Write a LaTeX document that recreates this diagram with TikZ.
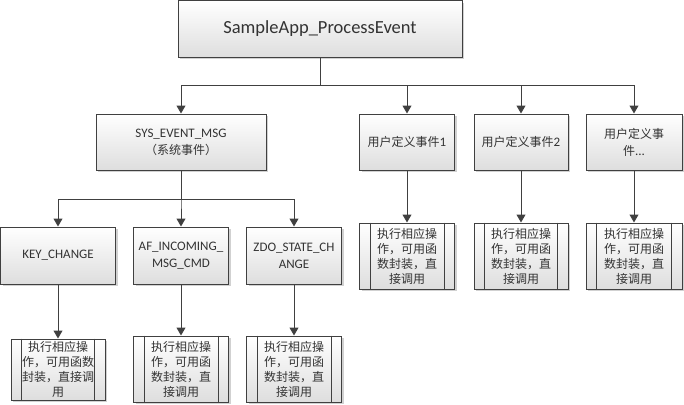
\documentclass[tikz,border=0pt]{standalone}
\usepackage{fontspec}
\setmainfont{Carlito}
\newfontfamily\cjk{Noto Sans CJK SC}
\usetikzlibrary{arrows.meta,shadows}
\definecolor{linec}{HTML}{404040}
\definecolor{txtc}{HTML}{333333}
\newcommand{\zhtxt}[1]{{\cjk\fontsize{12}{15}\selectfont #1}}
\begin{document}
\begin{tikzpicture}[x=1pt,y=-1pt,
  box/.style={draw=linec, line width=1pt, top color=white, bottom color=black!13,
    drop shadow={shadow xshift=2pt, shadow yshift=-2pt, fill=black, opacity=0.18},
    text=txtc, align=center, inner sep=2pt, font=\fontsize{13}{17}\selectfont},
  proc/.style={box, font=\cjk\fontsize{12}{15}\selectfont},
  arr/.style={draw=linec, line width=1pt, -{Triangle[length=8pt,width=9pt]}},
  sep/.style={draw=linec, line width=1pt}]
\useasboundingbox (0,0) rectangle (684,404);
% level 0
\node[box, minimum width=284pt, minimum height=56pt, font=\fontsize{18.5}{22}\selectfont] (top) at (320,29) {SampleApp\_ProcessEvent};
% level 1
\node[box, minimum width=170pt, minimum height=56pt] (sys) at (181,142) {SYS\_EVENT\_MSG\\\zhtxt{（系统事件）}};
\node[box, minimum width=95pt, minimum height=56pt] (u1) at (407,142) {\zhtxt{用户定义事件}1};
\node[box, minimum width=94pt, minimum height=56pt] (u2) at (521,142) {\zhtxt{用户定义事件}2};
\node[box, minimum width=96pt, minimum height=56pt] (u3) at (634,142) {\zhtxt{用户定义事}\\\zhtxt{件}...};
% level 2
\node[box, minimum width=115pt, minimum height=57pt] (key) at (58,255.5) {KEY\_CHANGE};
\node[box, minimum width=95pt, minimum height=57pt] (af) at (181,255.5) {AF\_INCOMING\_\\MSG\_CMD};
\node[box, minimum width=95pt, minimum height=57pt] (zdo) at (294,255.5) {ZDO\_STATE\_CH\\ANGE};
% process boxes
\node[proc, minimum width=94pt, minimum height=61pt] (pk) at (58,369.5) {执行相应操\\作，可用函数\\封装，直接调\\用};
\node[proc, minimum width=95pt, minimum height=66pt] (pa) at (181,369) {执行相应操\\作，可用函\\数封装，直\\接调用};
\node[proc, minimum width=95pt, minimum height=66pt] (pz) at (294,369) {执行相应操\\作，可用函\\数封装，直\\接调用};
\node[proc, minimum width=95pt, minimum height=66pt] (p1) at (407,256) {执行相应操\\作，可用函\\数封装，直\\接调用};
\node[proc, minimum width=94pt, minimum height=66pt] (p2) at (521,256) {执行相应操\\作，可用函\\数封装，直\\接调用};
\node[proc, minimum width=96pt, minimum height=66pt] (p3) at (634,256) {执行相应操\\作，可用函\\数封装，直\\接调用};
\foreach \n in {pk,pa,pz,p1,p2,p3}{
  \draw[sep] ([xshift=11pt]\n.north west) -- ([xshift=11pt]\n.south west);
  \draw[sep] ([xshift=-11pt]\n.north east) -- ([xshift=-11pt]\n.south east);
}
% connectors
\coordinate (b1) at (0,85);
\coordinate (b2) at (0,199);
\foreach \c in {sys,u1,u2,u3}
  \draw[arr] (top.south) |- (b1 -| \c.north) -- (\c.north);
\foreach \c in {key,af,zdo}
  \draw[arr] (sys.south) |- (b2 -| \c.north) -- (\c.north);
\draw[arr] (key.south) -- (pk.north);
\draw[arr] (af.south) -- (pa.north);
\draw[arr] (zdo.south) -- (pz.north);
\draw[arr] (u1.south) -- (p1.north);
\draw[arr] (u2.south) -- (p2.north);
\draw[arr] (u3.south) -- (p3.north);
\end{tikzpicture}
\end{document}
